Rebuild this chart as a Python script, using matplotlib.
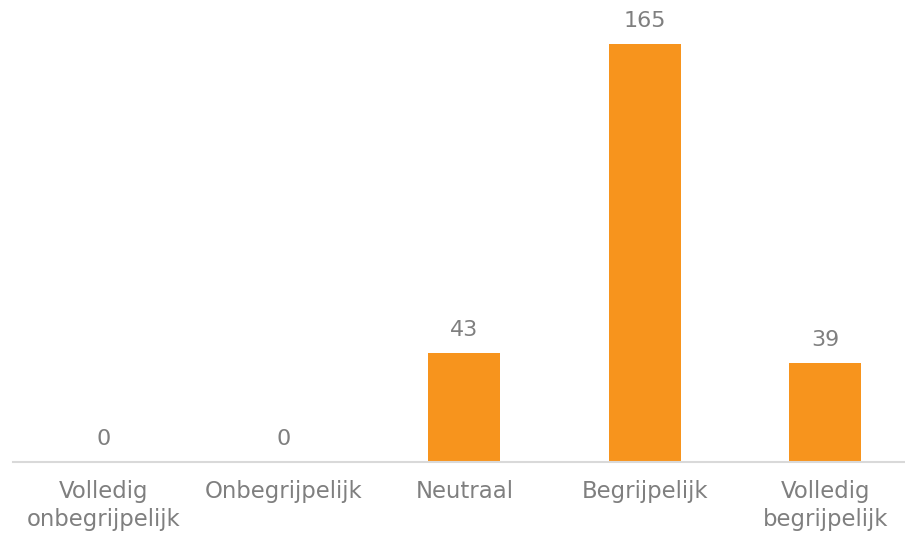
import matplotlib
matplotlib.use("Agg")
import matplotlib.pyplot as plt

categories = ["Volledig\nonbegrijpelijk", "Onbegrijpelijk", "Neutraal", "Begrijpelijk", "Volledig\nbegrijpelijk"]
values = [0, 0, 43, 165, 39]

bar_color = "#F7941D"
text_color = "#7F7F7F"
axis_color = "#D9D9D9"

plt.rcParams['font.family'] = ['DejaVu Sans']

fig = plt.figure(figsize=(9.05, 5.38), dpi=100)
ax = fig.add_axes([13/905, (538-462)/538, 1 - 13/905, 462/538])

x = list(range(len(categories)))
bars = ax.bar(x, values, width=72/180.5, color=bar_color, zorder=2)

ax.set_xlim(-0.5, (905 - 103.5) / 180.5)
ax.set_ylim(0, 462 / 2.533)

for xi, v in zip(x, values):
    ax.annotate(str(v), (xi, v), xytext=(0, 12.5), textcoords="offset points",
                ha="center", va="baseline", fontsize=16, color=text_color)

for s in ["top", "right", "left"]:
    ax.spines[s].set_visible(False)
ax.spines["bottom"].set_color(axis_color)
ax.spines["bottom"].set_linewidth(1.5)
ax.set_yticks([])
ax.set_xticks(x)
ax.set_xticklabels(categories, fontsize=16.4, color=text_color, linespacing=1.3)
ax.tick_params(axis="x", length=0, pad=13)

fig.savefig("out.png", dpi=100)
